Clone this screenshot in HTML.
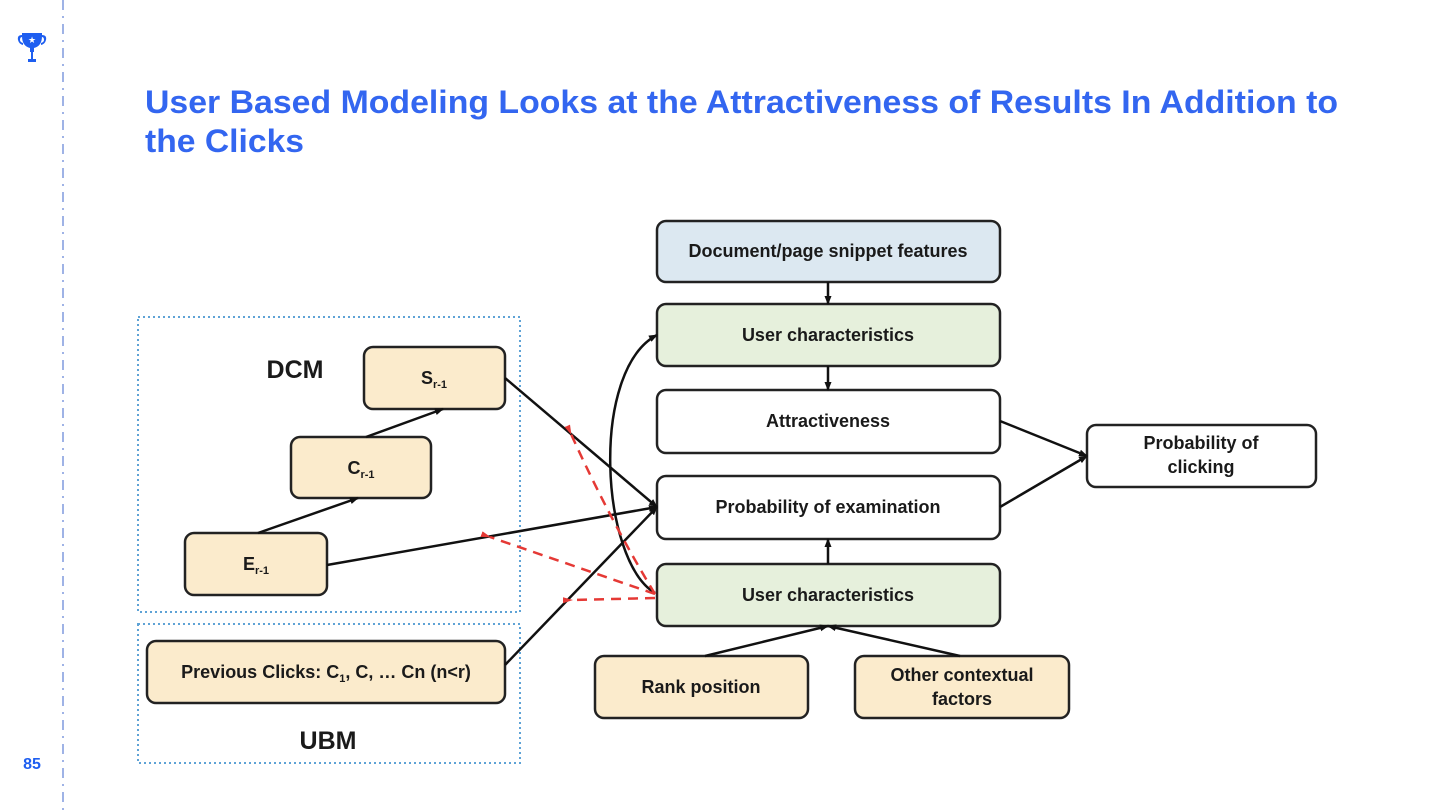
<!DOCTYPE html>
<html><head><meta charset="utf-8"><style>
html,body{margin:0;padding:0;background:#fff;width:1440px;height:810px;overflow:hidden}
svg{display:block}
.t{font-family:"Liberation Sans",sans-serif;font-weight:bold}
.b{font-family:"Liberation Sans",sans-serif;font-weight:bold;font-size:18px;fill:#1a1a1a;text-anchor:middle}
</style></head><body>
<svg width="1440" height="810" viewBox="0 0 1440 810" xmlns="http://www.w3.org/2000/svg">
<defs>
<marker id="a" markerWidth="9" markerHeight="9" refX="8" refY="4.5" orient="auto" markerUnits="userSpaceOnUse"><path d="M0,1 L9,4.5 L0,8 z" fill="#111"/></marker>
<marker id="r" markerWidth="10" markerHeight="8" refX="1" refY="4" orient="auto" markerUnits="userSpaceOnUse"><path d="M10,1 L0,4 L10,7 z" fill="#e53935"/></marker>
</defs>
<line x1="63" y1="0" x2="63" y2="810" stroke="#9fb3e6" stroke-width="2" stroke-dasharray="10,6,2,6"/>
<g fill="#1e5ef0">
<path d="M22,33 h20 v3 q0,10 -8,12 v4 h-4 v-4 q-8,-2 -8,-12 z"/>
<path d="M22,35 q-5,0 -4,5 q1,4 5,5 l0,-2 q-3,-1 -3,-3 q0,-3 2,-3z"/>
<path d="M42,35 q5,0 4,5 q-1,4 -5,5 l0,-2 q3,-1 3,-3 q0,-3 -2,-3z"/>
<rect x="31" y="52" width="2" height="8"/>
<rect x="28" y="59" width="8" height="3"/>
</g>
<text x="32" y="43" font-size="9" fill="#fff" text-anchor="middle">★</text>
<text x="32" y="769" class="t" font-size="16" fill="#1e5ef0" text-anchor="middle">85</text>
<text x="145" y="113" class="t" font-size="32" fill="#3366f0" textLength="1193" lengthAdjust="spacingAndGlyphs">User Based Modeling Looks at the Attractiveness of Results In Addition to</text>
<text x="145" y="152" class="t" font-size="32" fill="#3366f0" textLength="159" lengthAdjust="spacingAndGlyphs">the Clicks</text>
<rect x="138" y="317" width="382" height="295" fill="none" stroke="#5ea3d6" stroke-width="2" stroke-dasharray="2,3"/>
<rect x="138" y="624" width="382" height="139" fill="none" stroke="#5ea3d6" stroke-width="2" stroke-dasharray="2,3"/>
<text x="295" y="378" class="b" style="font-size:25px">DCM</text>
<text x="328" y="749" class="b" style="font-size:25px">UBM</text>
<g stroke="#222" stroke-width="2.5">
<rect x="364" y="347" width="141" height="62" rx="9" fill="#fbebcc"/>
<rect x="291" y="437" width="140" height="61" rx="9" fill="#fbebcc"/>
<rect x="185" y="533" width="142" height="62" rx="9" fill="#fbebcc"/>
<rect x="147" y="641" width="358" height="62" rx="9" fill="#fbebcc"/>
<rect x="657" y="221" width="343" height="61" rx="9" fill="#dce8f1"/>
<rect x="657" y="304" width="343" height="62" rx="9" fill="#e6f0dc"/>
<rect x="657" y="390" width="343" height="63" rx="9" fill="#fff"/>
<rect x="657" y="476" width="343" height="63" rx="9" fill="#fff"/>
<rect x="657" y="564" width="343" height="62" rx="9" fill="#e6f0dc"/>
<rect x="1087" y="425" width="229" height="62" rx="9" fill="#fff"/>
<rect x="595" y="656" width="213" height="62" rx="9" fill="#fbebcc"/>
<rect x="855" y="656" width="214" height="62" rx="9" fill="#fbebcc"/>
</g>
<text x="434" y="384" class="b">S<tspan font-size="11" dy="4">r-1</tspan></text>
<text x="361" y="474" class="b">C<tspan font-size="11" dy="4">r-1</tspan></text>
<text x="256" y="570" class="b">E<tspan font-size="11" dy="4">r-1</tspan></text>
<text x="326" y="678" class="b">Previous Clicks: C<tspan font-size="11" dy="4">1</tspan><tspan dy="-4">, C, … Cn (n&lt;r)</tspan></text>
<text x="828" y="257" class="b">Document/page snippet features</text>
<text x="828" y="341" class="b">User characteristics</text>
<text x="828" y="427" class="b">Attractiveness</text>
<text x="828" y="513" class="b">Probability of examination</text>
<text x="828" y="601" class="b">User characteristics</text>
<text x="1201" y="449" class="b">Probability of</text>
<text x="1201" y="473" class="b">clicking</text>
<text x="701" y="693" class="b">Rank position</text>
<text x="962" y="681" class="b">Other contextual</text>
<text x="962" y="705" class="b">factors</text>
<g stroke="#111" stroke-width="2.5" fill="none" marker-end="url(#a)">
<line x1="258" y1="533" x2="358" y2="498"/>
<line x1="366" y1="437" x2="443" y2="409"/>
<line x1="505" y1="378" x2="657" y2="507"/>
<line x1="327" y1="565" x2="657" y2="507"/>
<line x1="505" y1="665" x2="657" y2="507"/>
<line x1="828" y1="282" x2="828" y2="304"/>
<line x1="828" y1="366" x2="828" y2="390"/>
<line x1="828" y1="564" x2="828" y2="539"/>
<line x1="705" y1="656" x2="828" y2="626"/>
<line x1="960" y1="656" x2="828" y2="626"/>
<line x1="1000" y1="421" x2="1087" y2="456"/>
<line x1="1000" y1="507" x2="1087" y2="456"/>
<path d="M655,593 C600,560 590,370 657,335"/>
</g>
<g stroke="#e53935" stroke-width="2.5" fill="none" stroke-dasharray="10,7" marker-end="url(#r)">
<path d="M655,594 Q610,520 571,434"/>
<line x1="655" y1="594" x2="490" y2="537"/>
<line x1="655" y1="598" x2="572" y2="600"/>
</g>
</svg>
</body></html>
